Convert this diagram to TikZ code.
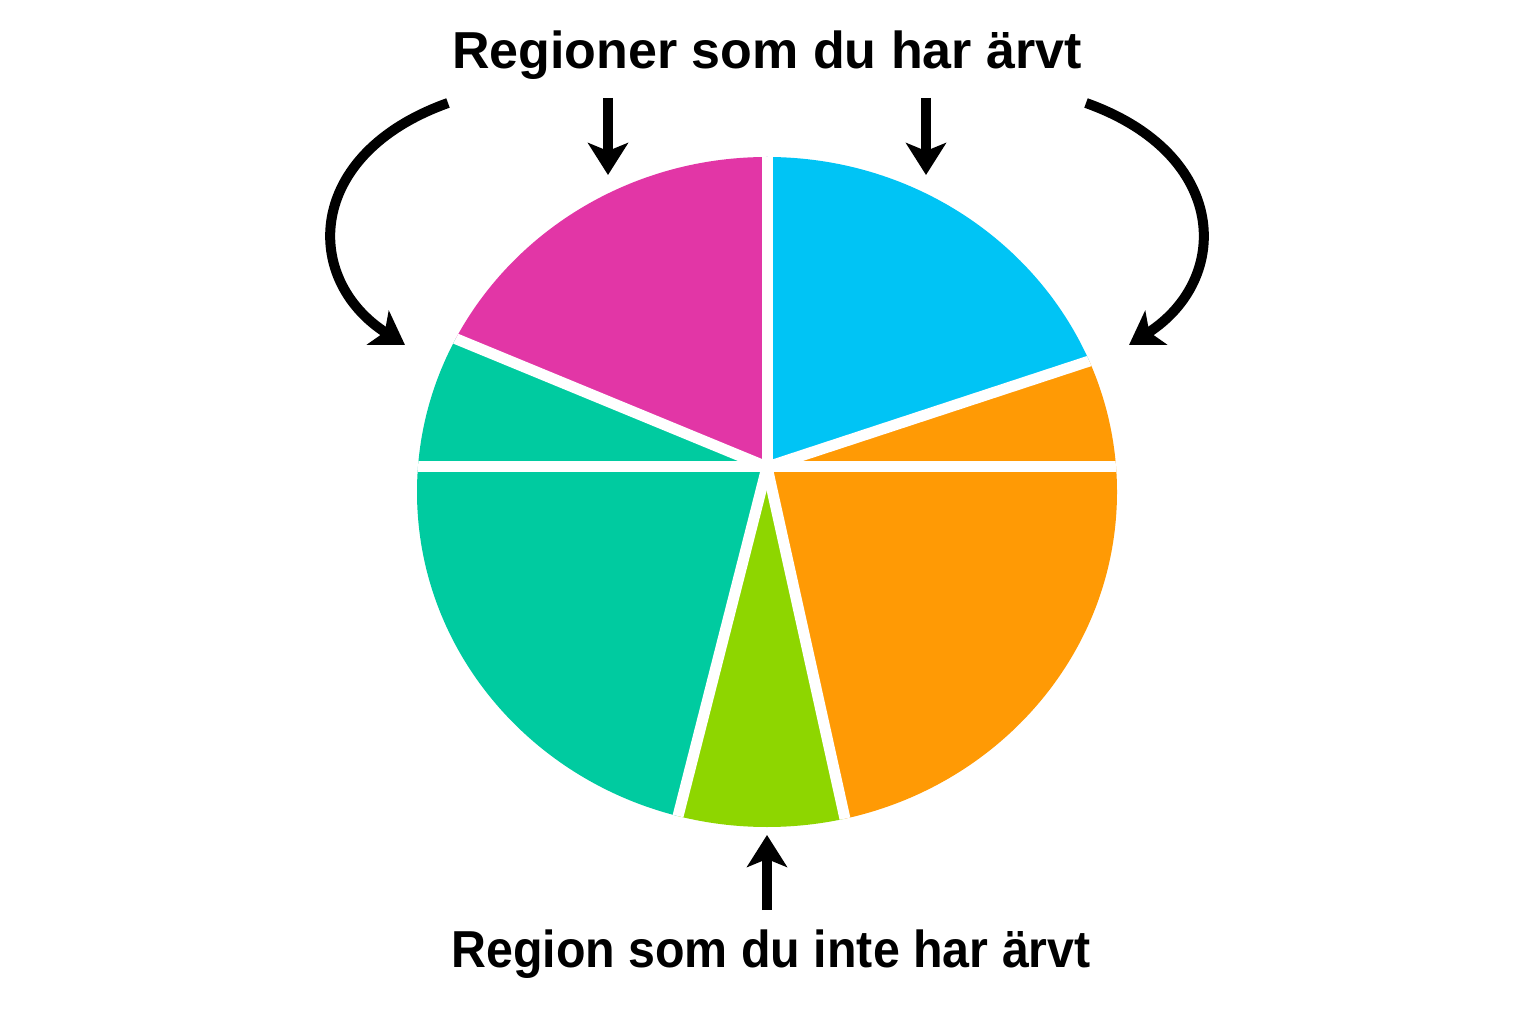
\documentclass[tikz,border=0pt]{standalone}
\usepackage{fontspec}
\setmainfont{Liberation Sans}
\newfontfamily\narrowfont{Liberation Sans}[FakeStretch=0.93]
\usetikzlibrary{arrows.meta}

\definecolor{cyanslice}{RGB}{0,196,245}
\definecolor{pinkslice}{RGB}{226,54,166}
\definecolor{tealslice}{RGB}{0,203,160}
\definecolor{greenslice}{RGB}{142,214,0}
\definecolor{orangeslice}{RGB}{255,154,5}

\begin{document}
\begin{tikzpicture}[x=0.5pt,y=0.5pt,
	gap line/.style={white,line width=5.5pt},
	arrow line/.style={-{Stealth[length=16pt,width=20pt,inset=4pt]},line width=5pt},
	label text/.style={font=\bfseries\fontsize{26}{30}\selectfont,inner sep=0pt}
]
	\useasboundingbox[fill=white] (0,0) rectangle (1536,1024);

	\coordinate (c) at (767,557);
	\coordinate (o) at (767,532);

	% pie
	\begin{scope}
		\clip (o) ellipse [x radius=350, y radius=335];
		\foreach \a/\b/\col in {18.2/90/cyanslice, 90/157.6/pinkslice, 157.6/180/tealslice,
			180/255.7/tealslice, 255.7/282.5/greenslice, 282.5/360/orangeslice, 0/18.2/orangeslice} {
			\fill[\col] (c) -- ([shift={(\a:800)}]c) -- ([shift={({(\a+\b)/2}:800)}]c)
				-- ([shift={(\b:800)}]c) -- cycle;
		}
		\foreach \a in {18.2,90,157.6,180,255.7,282.5,360} {
			\draw[gap line] (c) -- ([shift={(\a:800)}]c);
		}
	\end{scope}

	% labels
	\node[label text] (top) at (767,969) {Regioner som du har ärvt};
	\node[label text] (bottom) at (771,70) {\narrowfont Region som du inte har ärvt};

	% arrows
	\coordinate (tealstart) at (448,921);
	\coordinate (tealtip) at (405,679);
	\coordinate (pinkstart) at (608,926);
	\coordinate (pinktip) at (608,849);
	\coordinate (cyanstart) at (926,926);
	\coordinate (cyantip) at (926,849);
	\coordinate (orangestart) at (1086,921);
	\coordinate (orangetip) at (1129,679);
	\coordinate (greenstart) at (767,114);
	\coordinate (greentip) at (767,189);

	\draw[arrow line] (tealstart) .. controls (305,870) and (302,745) .. (tealtip);
	\draw[arrow line] (pinkstart) -- (pinktip);
	\draw[arrow line] (cyanstart) -- (cyantip);
	\draw[arrow line] (orangestart) .. controls (1229,870) and (1232,745) .. (orangetip);
	\draw[arrow line] (greenstart) -- (greentip);
\end{tikzpicture}
\end{document}
